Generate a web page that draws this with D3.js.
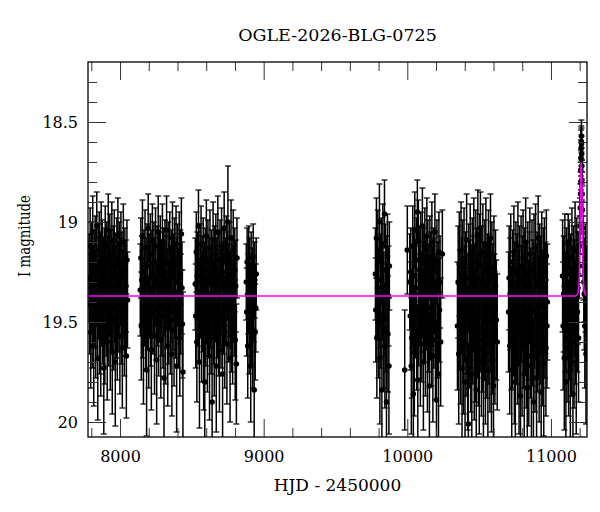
<!DOCTYPE html>
<html>
<head>
<meta charset="utf-8">
<script src="https://cdn.jsdelivr.net/npm/d3@7"></script>
<style>
  body { margin: 0; background: #fff; }
  svg { display: block; }
  text { font-family: "DejaVu Serif", "Liberation Serif", serif; fill: #000; }
</style>
</head>
<body>
<div id="chart"></div>
<script>
// observing seasons: [HJD-2450000, I mag, error]
const season1 = [[7785,19.28,0.22],[7789,19.41,0.25],[7792,19.12,0.19],[7796,19.55,0.28],[7799,19.33,0.23],[7803,19.21,0.21],[7806,19.47,0.26],[7810,19.05,0.18],[7813,19.36,0.24],[7817,19.62,0.30],[7820,19.25,0.21],[7824,19.39,0.24],[7827,19.17,0.20],[7831,19.51,0.27],[7834,19.30,0.22],[7838,19.02,0.17],[7841,19.44,0.25],[7845,19.68,0.31],[7848,19.22,0.21],[7852,19.35,0.23],[7855,19.14,0.19],[7859,19.49,0.27],[7862,19.27,0.22],[7866,19.58,0.29],[7869,19.08,0.18],[7873,19.38,0.24],[7876,19.19,0.20],[7880,19.45,0.26],[7883,19.31,0.23],[7887,19.73,0.33],[7890,19.24,0.21],[7894,19.53,0.28],[7897,19.11,0.19],[7901,19.37,0.24],[7904,19.42,0.25],[7908,19.20,0.20],[7911,19.60,0.29],[7915,19.29,0.22],[7918,19.04,0.18],[7922,19.46,0.26],[7925,19.34,0.23],[7929,19.16,0.20],[7932,19.56,0.28],[7936,19.26,0.22],[7939,19.40,0.24],[7943,19.09,0.19],[7946,19.65,0.31],[7950,19.32,0.23],[7953,19.23,0.21],[7957,19.48,0.26],[7960,19.13,0.19],[7964,19.36,0.24],[7967,19.70,0.32],[7971,19.28,0.22],[7974,19.43,0.25],[7978,19.18,0.20],[7981,19.52,0.27],[7985,19.06,0.18],[7988,19.33,0.23],[7992,19.40,0.25],[7995,19.21,0.21],[7999,19.57,0.29],[8002,19.30,0.22],[8006,19.15,0.20],[8009,19.45,0.26],[8013,19.27,0.22],[8016,19.63,0.30],[8020,19.38,0.24],[8023,19.10,0.19],[8027,19.35,0.23],[8030,19.50,0.27],[8034,19.24,0.21],[8037,19.42,0.25],[8041,19.32,0.23],[8044,19.67,0.31],[8048,19.19,0.20],[8052,19.39,0.24]];

const season2 = [[8141,19.34,0.23],[8145,19.18,0.20],[8148,19.52,0.27],[8152,19.29,0.22],[8156,19.07,0.18],[8159,19.43,0.25],[8163,19.61,0.30],[8167,19.25,0.21],[8170,19.37,0.24],[8174,19.13,0.19],[8178,19.48,0.26],[8181,19.31,0.23],[8185,19.74,0.33],[8189,19.22,0.21],[8192,19.40,0.24],[8196,19.03,0.17],[8200,19.55,0.28],[8203,19.28,0.22],[8207,19.35,0.23],[8211,19.16,0.20],[8214,19.46,0.26],[8218,19.64,0.30],[8222,19.26,0.22],[8225,19.09,0.18],[8229,19.41,0.25],[8233,19.33,0.23],[8236,19.20,0.20],[8240,19.57,0.29],[8244,19.30,0.22],[8247,19.12,0.19],[8251,19.44,0.25],[8255,19.69,0.32],[8258,19.23,0.21],[8262,19.38,0.24],[8266,19.05,0.18],[8269,19.50,0.27],[8273,19.27,0.22],[8277,19.36,0.24],[8280,19.17,0.20],[8284,19.59,0.29],[8288,19.32,0.23],[8291,19.42,0.25],[8295,19.10,0.19],[8299,19.47,0.26],[8302,19.24,0.21],[8306,19.78,0.34],[8310,19.34,0.23],[8313,19.19,0.20],[8317,19.53,0.28],[8321,19.29,0.22],[8324,19.04,0.17],[8328,19.39,0.24],[8332,19.62,0.30],[8335,19.21,0.21],[8339,19.45,0.26],[8343,19.31,0.23],[8346,19.14,0.19],[8350,19.49,0.27],[8354,19.36,0.24],[8357,19.25,0.21],[8361,19.66,0.31],[8365,19.08,0.18],[8368,19.40,0.24],[8372,19.28,0.22],[8376,19.54,0.28],[8379,19.18,0.20],[8383,19.35,0.23],[8387,19.43,0.25],[8390,19.11,0.19],[8394,19.72,0.33],[8398,19.30,0.22],[8401,19.22,0.21],[8405,19.47,0.26],[8409,19.37,0.24],[8412,19.15,0.20],[8416,19.58,0.29],[8420,19.26,0.22],[8423,19.41,0.25],[8427,19.06,0.18],[8431,19.33,0.23],[8434,19.51,0.27],[8438,19.75,0.40]];

const season3 = [[8524,19.31,0.23],[8527,19.47,0.26],[8531,19.15,0.20],[8535,19.60,0.30],[8538,19.27,0.22],[8542,19.38,0.24],[8546,19.02,0.18],[8549,19.44,0.26],[8553,19.70,0.33],[8557,19.22,0.21],[8560,19.35,0.23],[8564,19.11,0.19],[8568,19.52,0.28],[8571,19.29,0.22],[8575,19.40,0.25],[8579,19.18,0.20],[8582,19.63,0.31],[8586,19.33,0.23],[8590,19.80,0.36],[8593,19.24,0.21],[8597,19.46,0.26],[8601,19.07,0.18],[8604,19.37,0.24],[8608,19.56,0.29],[8612,19.20,0.21],[8615,19.42,0.25],[8619,19.30,0.22],[8623,19.67,0.32],[8626,19.13,0.19],[8630,19.39,0.24],[8634,19.49,0.27],[8637,19.26,0.22],[8641,19.90,0.40],[8645,19.34,0.23],[8648,19.09,0.19],[8652,19.45,0.26],[8656,19.58,0.29],[8659,19.23,0.21],[8663,19.36,0.24],[8667,19.16,0.20],[8670,19.72,0.33],[8674,19.31,0.23],[8678,19.43,0.25],[8681,19.05,0.18],[8685,19.50,0.27],[8689,19.28,0.22],[8692,19.64,0.31],[8696,19.19,0.20],[8700,19.38,0.24],[8703,19.47,0.26],[8707,19.12,0.19],[8711,19.33,0.23],[8714,19.76,0.34],[8718,19.25,0.21],[8722,19.41,0.25],[8725,19.03,0.18],[8729,19.55,0.28],[8733,19.30,0.22],[8736,19.37,0.24],[8740,19.17,0.20],[8744,19.61,0.30],[8747,19.27,0.22],[8751,19.00,0.28],[8755,19.44,0.26],[8758,19.34,0.23],[8762,19.21,0.21],[8766,19.68,0.32],[8769,19.39,0.24],[8773,19.08,0.19],[8777,19.48,0.27],[8780,19.29,0.22],[8784,19.53,0.28],[8788,19.14,0.20],[8791,19.36,0.24],[8795,19.42,0.25],[8799,19.24,0.21],[8802,19.59,0.30],[8806,19.32,0.23],[8810,19.71,0.30],[8814,19.18,0.20]];

const season4 = [[8879,19.30,0.19],[8882,19.45,0.22],[8885,19.20,0.17],[8889,19.62,0.26],[8892,19.36,0.20],[8896,19.18,0.16],[8899,19.52,0.24],[8903,19.27,0.19],[8906,19.41,0.21],[8910,19.72,0.28],[8913,19.23,0.18],[8917,19.48,0.23],[8920,19.33,0.20],[8924,19.58,0.25],[8927,19.17,0.16],[8931,19.39,0.21],[8934,19.84,0.30],[8938,19.29,0.19],[8941,19.55,0.24],[8945,19.43,0.22],[8948,19.26,0.18]];

const season5 = [[9778,19.26,0.23],[9781,19.44,0.26],[9785,19.08,0.20],[9788,19.58,0.30],[9792,19.33,0.24],[9795,19.15,0.21],[9799,19.50,0.28],[9802,19.38,0.25],[9806,19.00,0.19],[9809,19.68,0.33],[9813,19.29,0.23],[9816,19.46,0.27],[9820,19.20,0.22],[9823,19.84,0.36],[9827,19.35,0.24],[9830,19.11,0.20],[9834,19.54,0.29],[9837,19.41,0.26],[9841,18.96,0.17],[9844,19.62,0.31],[9848,19.24,0.23],[9851,19.48,0.27],[9855,19.90,0.38],[9858,19.31,0.24],[9862,19.17,0.21],[9865,19.56,0.29],[9869,19.37,0.25],[9872,19.72,0.34],[9875,19.22,0.22]];

const season6 = [[9982,19.74,0.30],[10000,19.14,0.22],[10017,19.30,0.24],[10021,19.47,0.27],[10024,19.25,0.22],[10028,19.72,0.34],[10031,19.58,0.30],[10035,19.38,0.25],[10038,19.12,0.20],[10042,19.86,0.36],[10045,19.27,0.23],[10049,19.65,0.32],[10052,19.04,0.19],[10056,19.42,0.26],[10059,19.33,0.24],[10063,19.19,0.21],[10066,19.55,0.29],[10070,18.95,0.16],[10073,19.79,0.36],[10077,19.09,0.20],[10080,19.45,0.27],[10084,19.36,0.24],[10087,19.24,0.22],[10091,19.61,0.31],[10094,19.16,0.21],[10098,19.40,0.25],[10101,19.52,0.28],[10105,19.02,0.19],[10108,19.34,0.24],[10112,19.70,0.34],[10115,19.26,0.23],[10119,19.44,0.26],[10122,19.13,0.20],[10126,19.57,0.30],[10129,19.31,0.24],[10133,19.39,0.25],[10136,19.07,0.19],[10140,19.63,0.32],[10143,19.21,0.22],[10147,19.48,0.27],[10150,19.35,0.24],[10154,19.82,0.37],[10157,19.18,0.21],[10161,19.43,0.26],[10164,19.28,0.23],[10168,19.53,0.29],[10171,19.10,0.20],[10175,19.37,0.25],[10178,19.67,0.33],[10182,19.25,0.22],[10185,19.46,0.27],[10189,19.32,0.24],[10192,19.05,0.19],[10196,19.59,0.30],[10199,19.41,0.25],[10203,19.89,0.38],[10206,19.20,0.21],[10210,19.50,0.28],[10213,19.34,0.24],[10217,19.76,0.35],[10220,19.15,0.20],[10224,19.44,0.26],[10228,19.30,0.23],[10232,19.60,0.32],[10244,19.16,0.22]];

const season7 = [[10349,19.52,0.32],[10354,19.30,0.28],[10358,19.66,0.35],[10362,19.21,0.26],[10366,19.44,0.30],[10370,19.58,0.33],[10374,19.14,0.24],[10378,19.37,0.29],[10381,19.73,0.37],[10385,19.26,0.27],[10388,19.49,0.31],[10392,19.62,0.34],[10395,19.18,0.25],[10399,19.41,0.29],[10402,19.80,0.38],[10406,19.33,0.28],[10409,19.55,0.32],[10413,19.09,0.23],[10416,19.46,0.30],[10420,19.68,0.36],[10425,20.01,0.40],[10428,19.28,0.27],[10431,19.52,0.31],[10435,19.38,0.29],[10438,19.16,0.25],[10442,19.61,0.34],[10445,19.43,0.30],[10449,19.76,0.37],[10452,19.24,0.26],[10456,19.50,0.31],[10459,19.35,0.28],[10463,19.12,0.24],[10466,19.64,0.35],[10470,19.40,0.29],[10473,19.57,0.33],[10477,19.20,0.26],[10480,19.84,0.39],[10484,19.31,0.28],[10487,19.47,0.31],[10491,19.06,0.22],[10494,19.59,0.33],[10498,19.36,0.29],[10501,19.70,0.36],[10505,19.22,0.26],[10509,19.03,0.18],[10512,19.45,0.30],[10516,19.63,0.34],[10519,19.29,0.27],[10523,19.53,0.32],[10526,19.15,0.24],[10530,19.78,0.38],[10533,19.39,0.29],[10537,19.48,0.31],[10540,19.25,0.26],[10544,19.66,0.35],[10547,19.11,0.23],[10551,19.42,0.30],[10554,19.56,0.32],[10558,19.34,0.28],[10561,19.74,0.37],[10565,19.19,0.25],[10568,19.50,0.31],[10572,19.37,0.29],[10575,19.61,0.34],[10579,19.08,0.22],[10582,19.45,0.30],[10586,19.69,0.36],[10589,19.27,0.27],[10593,19.54,0.32],[10596,19.40,0.29],[10600,19.82,0.39],[10603,19.23,0.26],[10607,19.47,0.31],[10610,19.58,0.33],[10614,19.32,0.28],[10620,19.49,0.30],[10626,19.60,0.34]];

const season8 = [[10705,19.45,0.30],[10709,19.28,0.26],[10713,19.62,0.34],[10716,19.36,0.28],[10720,19.20,0.24],[10724,19.53,0.31],[10727,19.74,0.37],[10731,19.53,0.30],[10734,19.31,0.27],[10738,19.47,0.30],[10742,19.15,0.23],[10745,19.66,0.35],[10749,19.39,0.29],[10752,19.80,0.38],[10756,19.25,0.25],[10760,19.50,0.31],[10763,19.34,0.28],[10767,19.58,0.33],[10770,19.12,0.22],[10774,19.43,0.29],[10778,19.70,0.36],[10781,19.29,0.27],[10785,19.55,0.32],[10788,19.87,0.40],[10792,19.22,0.25],[10796,19.41,0.29],[10799,19.63,0.34],[10803,19.35,0.28],[10806,19.18,0.24],[10810,19.52,0.31],[10814,19.76,0.38],[10817,19.30,0.27],[10821,19.46,0.30],[10824,19.10,0.22],[10828,19.60,0.33],[10832,19.38,0.28],[10835,19.83,0.39],[10839,19.26,0.26],[10842,19.49,0.30],[10846,19.67,0.35],[10850,19.33,0.28],[10853,19.16,0.23],[10857,19.56,0.32],[10860,19.42,0.29],[10864,19.72,0.37],[10868,19.24,0.25],[10871,19.51,0.31],[10875,19.37,0.28],[10878,19.90,0.42],[10882,19.21,0.25],[10886,19.44,0.29],[10889,19.61,0.34],[10893,19.13,0.22],[10896,19.40,0.29],[10900,19.78,0.38],[10904,19.32,0.27],[10907,19.54,0.31],[10911,19.08,0.21],[10914,19.47,0.30],[10918,19.65,0.35],[10922,19.27,0.26],[10925,19.50,0.31],[10929,19.35,0.28],[10932,19.85,0.40],[10936,19.19,0.24],[10940,19.43,0.29],[10943,19.59,0.33],[10947,19.30,0.27],[10950,19.71,0.36],[10954,19.23,0.25],[10958,19.48,0.30],[10961,19.38,0.28],[10965,19.63,0.34],[10968,19.17,0.23],[10972,19.52,0.31],[10975,19.40,0.29]];

const season9 = [[11081,19.27,0.28],[11085,19.52,0.32],[11089,19.36,0.29],[11093,19.68,0.36],[11097,19.22,0.26],[11100,19.45,0.30],[11104,19.80,0.39],[11108,19.31,0.28],[11112,19.57,0.33],[11116,19.40,0.29],[11120,19.10,0.14],[11123,19.63,0.34],[11127,19.26,0.27],[11131,19.48,0.31],[11135,19.74,0.37],[11138,19.34,0.28],[11142,19.55,0.32],[11146,19.18,0.25],[11150,19.42,0.30],[11153,19.86,0.40],[11157,19.29,0.27],[11161,19.60,0.33],[11165,19.38,0.29],[11168,19.14,0.24],[11172,19.50,0.31],[11176,19.70,0.36],[11180,19.24,0.26],[11184,19.45,0.30],[11188,19.33,0.28],[11192,19.58,0.32],
  [11196,19.22,0.16],[11199,19.12,0.15],[11202,19.02,0.14],[11204,18.93,0.12],[11206,18.86,0.11],[11207,18.80,0.10],[11208,18.74,0.10],[11209,18.68,0.09],[11210,18.63,0.09],[11211,18.60,0.08],[11212,18.57,0.08],[11213,18.61,0.08],[11214,18.66,0.09],[11215,18.72,0.09],[11216,18.79,0.10],[11217,18.86,0.11],[11219,18.94,0.12],[11221,19.03,0.13],[11223,19.12,0.15],[11226,19.22,0.17],[11229,19.30,0.20],
  [11232,19.36,0.28],[11236,19.52,0.31],[11240,19.28,0.27],[11244,19.66,0.35],[11248,19.41,0.29]];

// model light curve
const modelT = [7777, 11170, 11185, 11193, 11198, 11201, 11204, 11207, 11209, 11211, 11213, 11215, 11218, 11221, 11224, 11229, 11237, 11251];
const modelMag = [19.37, 19.37, 19.36, 19.33, 19.25, 19.12, 18.95, 18.80, 18.73, 18.70, 18.73, 18.80, 18.95, 19.12, 19.25, 19.33, 19.36, 19.37];

const xMajor = [8000, 9000, 10000, 11000];
const xMinor = [7800, 8200, 8400, 8600, 8800, 9200, 9400, 9600, 9800, 10200, 10400, 10600, 10800, 11200];
const yMajor = [18.5, 19, 19.5, 20];
const yMinor = [18.3, 18.4, 18.6, 18.7, 18.8, 18.9, 19.1, 19.2, 19.3, 19.4, 19.6, 19.7, 19.8, 19.9];
const yLabels = {18.5: "18.5", 19: "19", 19.5: "19.5", 20: "20"};

const WIDTH = 600, HEIGHT = 512;
const MARGINS = {left: 88, right: 13, top: 62, bottom: 75};
const X0 = MARGINS.left, X1 = WIDTH - MARGINS.right;
const Y0 = MARGINS.top, Y1 = HEIGHT - MARGINS.bottom;

const svg = d3.select("#chart").append("svg")
  .attr("width", WIDTH).attr("height", HEIGHT);

const X_SCALE = d3.scaleLinear().domain([7777, 11251]).range([X0, X1]);
const Y_SCALE = d3.scaleLinear().domain([18.2, 20.075]).range([Y0, Y1]);

svg.append("clipPath").attr("id", "plot-clip")
  .append("rect").attr("x", X0).attr("y", Y0)
  .attr("width", X1 - X0).attr("height", Y1 - Y0);

const plot = svg.append("g").attr("clip-path", "url(#plot-clip)");

const points = [season1, season2, season3, season4, season5, season6, season7, season8, season9].flat();

// error bars
const bars = plot.append("g").attr("stroke", "#000");
points.forEach(([t, m, e]) => {
  const x = X_SCALE(t), yt = Y_SCALE(m - e), yb = Y_SCALE(m + e);
  bars.append("line").attr("x1", x).attr("x2", x).attr("y1", yt).attr("y2", yb).attr("stroke-width", 1.5);
  bars.append("line").attr("x1", x - 3).attr("x2", x + 3).attr("y1", yt).attr("y2", yt).attr("stroke-width", 1.2);
  bars.append("line").attr("x1", x - 3).attr("x2", x + 3).attr("y1", yb).attr("y2", yb).attr("stroke-width", 1.2);
});

plot.append("g").selectAll("circle")
  .data(points).enter()
  .append("circle")
    .attr("cx", (d) => X_SCALE(d[0]))
    .attr("cy", (d) => Y_SCALE(d[1]))
    .attr("r", 2.8)
    .attr("fill", "#000");

// model
const line = d3.line()
  .x((d, i) => X_SCALE(modelT[i]))
  .y((d) => Y_SCALE(d))
  .curve(d3.curveMonotoneX);

plot.append("path")
  .attr("d", line(modelMag))
  .attr("fill", "none")
  .attr("stroke", "#ff00ff")
  .attr("stroke-width", 1.5);

// axes: ticks pointing inward on all four sides
function styleAxis(g) {
  g.select(".domain").remove();
  g.selectAll(".tick line").attr("stroke", "#333").attr("stroke-width", 1);
  g.selectAll(".tick text").attr("font-size", "16px")
    .attr("font-family", "'DejaVu Serif', serif").attr("fill", "#000");
}

svg.append("g").attr("transform", "translate(0," + Y1 + ")")
  .call(d3.axisBottom(X_SCALE).tickValues(xMajor).tickSize(-18).tickPadding(14).tickFormat(d3.format("d")))
  .call(styleAxis);
svg.append("g").attr("transform", "translate(0," + Y1 + ")")
  .call(d3.axisBottom(X_SCALE).tickValues(xMinor).tickSize(-9).tickFormat(""))
  .call(styleAxis);
svg.append("g").attr("transform", "translate(0," + Y0 + ")")
  .call(d3.axisTop(X_SCALE).tickValues(xMajor).tickSize(-18).tickFormat(""))
  .call(styleAxis);
svg.append("g").attr("transform", "translate(0," + Y0 + ")")
  .call(d3.axisTop(X_SCALE).tickValues(xMinor).tickSize(-9).tickFormat(""))
  .call(styleAxis);

svg.append("g").attr("transform", "translate(" + X0 + ",0)")
  .call(d3.axisLeft(Y_SCALE).tickValues(yMajor).tickSize(-18).tickPadding(10).tickFormat((d) => yLabels[d]))
  .call(styleAxis);
svg.append("g").attr("transform", "translate(" + X0 + ",0)")
  .call(d3.axisLeft(Y_SCALE).tickValues(yMinor).tickSize(-9).tickFormat(""))
  .call(styleAxis);
svg.append("g").attr("transform", "translate(" + X1 + ",0)")
  .call(d3.axisRight(Y_SCALE).tickValues(yMajor).tickSize(-18).tickFormat(""))
  .call(styleAxis);
svg.append("g").attr("transform", "translate(" + X1 + ",0)")
  .call(d3.axisRight(Y_SCALE).tickValues(yMinor).tickSize(-9).tickFormat(""))
  .call(styleAxis);

svg.append("rect")
  .attr("x", X0).attr("y", Y0)
  .attr("width", X1 - X0).attr("height", Y1 - Y0)
  .attr("fill", "none").attr("stroke", "#000").attr("stroke-width", 1.3);

// labels
svg.append("text")
  .attr("x", (X0 + X1) / 2).attr("y", 41)
  .attr("text-anchor", "middle").attr("font-size", "17.5px")
  .text("OGLE-2026-BLG-0725");

svg.append("text")
  .attr("x", (X0 + X1) / 2).attr("y", 491)
  .attr("text-anchor", "middle").attr("font-size", "17px")
  .text("HJD - 2450000");

svg.append("text")
  .attr("transform", "translate(30,236) rotate(-90)")
  .attr("text-anchor", "middle").attr("font-size", "17px")
  .attr("textLength", 82).attr("lengthAdjust", "spacingAndGlyphs")
  .text("I magnitude");
</script>
</body>
</html>
